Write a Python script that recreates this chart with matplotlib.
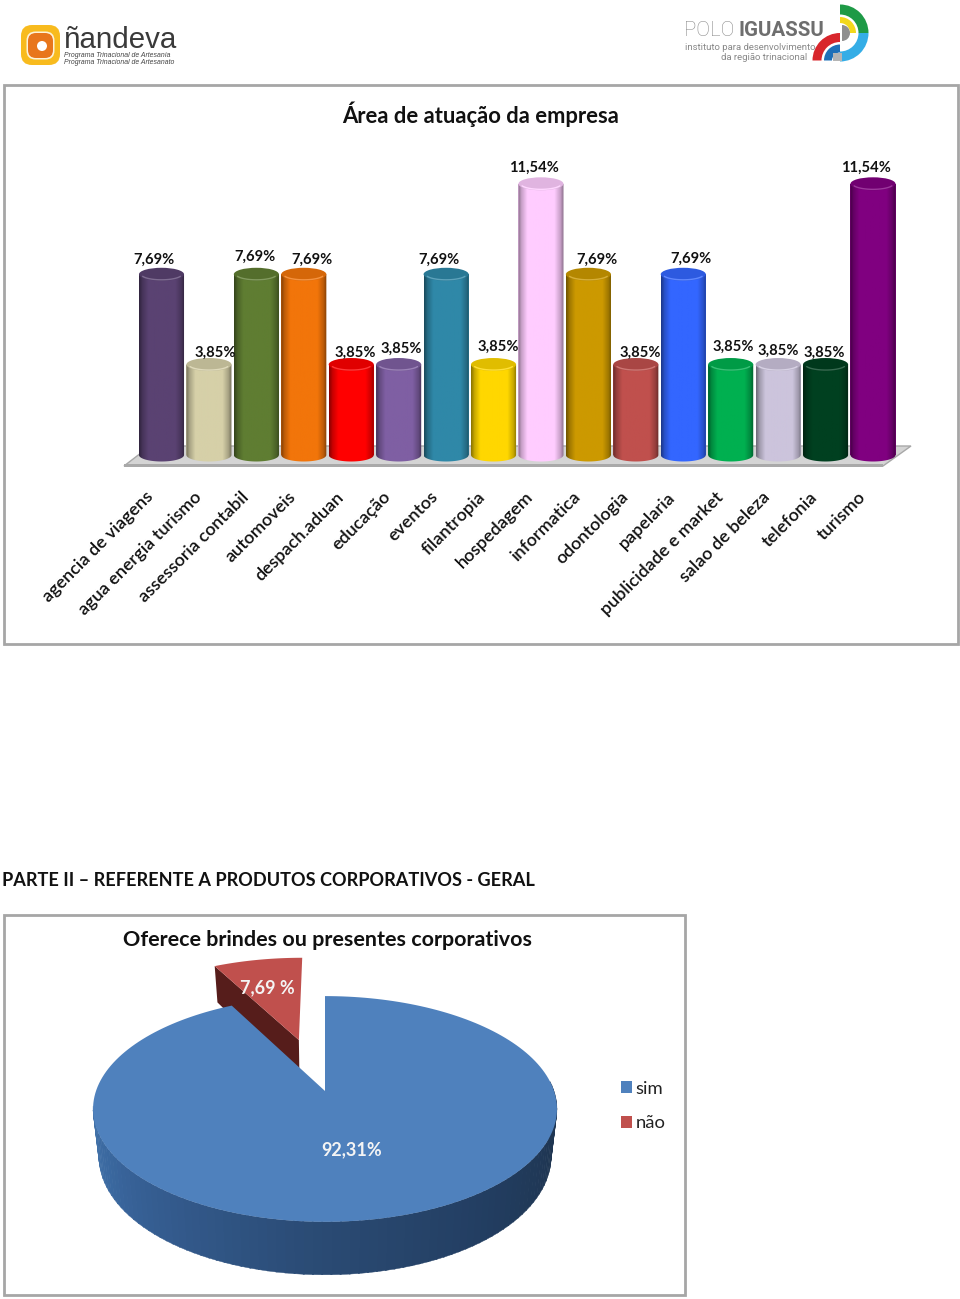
import numpy as np
import matplotlib
matplotlib.use("Agg")
import matplotlib.pyplot as plt
from matplotlib.patches import Rectangle, Polygon, Ellipse, Wedge, FancyBboxPatch, Patch
from matplotlib.colors import to_rgb
from matplotlib.transforms import ScaledTranslation

plt.rcParams['font.family'] = ['Lato', 'DejaVu Sans']

# data
categories = ["agencia de viagens", "agua energia turismo", "assessoria contabil", "automoveis",
              "despach.aduan", "educação", "eventos", "filantropia", "hospedagem", "informatica",
              "odontologia", "papelaria", "publicidade e market", "salao de beleza", "telefonia", "turismo"]
values = [7.69, 3.85, 7.69, 7.69, 3.85, 3.85, 7.69, 3.85, 11.54, 7.69, 3.85, 7.69, 3.85, 3.85, 3.85, 11.54]
bar_colors = ["#5a4272", "#d6d0a8", "#5f7d32", "#f2750a", "#ff0000", "#7f5fa3", "#2f88a8", "#ffd700",
              "#ffccff", "#cc9900", "#c0504d", "#3366ff", "#00b050", "#ccc4dc", "#004020", "#800080"]
label_x = [154, 215, 255, 312, 355, 401, 439, 498, 534, 597, 640, 691, 733, 778, 824, 866]
label_y = [258, 351, 255, 258, 351, 347, 258, 345, 166, 258, 351, 257, 345, 349, 351, 166]

pie_labels = ["sim", "não"]
pie_values = [92.31, 7.69]
pie_colors = ["#4f81bd", "#c0504d"]

W, H = 960, 1299
fig = plt.figure(figsize=(W / 100, H / 100), dpi=100)

# page axes in pixels
page = fig.add_axes([0, 0, 1, 1])
page.set_xlim(0, W)
page.set_ylim(H, 0)
page.axis("off")


def px(pixels):
    return pixels * 0.72


LOGO = "Liberation Sans"

# logos
page.add_patch(FancyBboxPatch((27, 31), 27, 28, boxstyle="round,pad=6,rounding_size=11", fc="#f8bb1e", ec="none"))
page.add_patch(FancyBboxPatch((30, 35), 21, 21, boxstyle="round,pad=3.5,rounding_size=9", fc="#fdf3d8", ec="none"))
page.add_patch(FancyBboxPatch((31, 36), 19, 19, boxstyle="round,pad=3,rounding_size=8", fc="#e8761c", ec="none"))
page.add_patch(Ellipse((42, 46), 10, 10, fc="white", ec="none"))
page.text(64, 47.5, "ñandeva", fontsize=px(29.5), color="#3a3a3a", va="baseline", family=LOGO)
page.text(64, 56.5, "Programa Trinacional de Artesanía", fontsize=px(6.9), color="#444444", style="italic",
          va="baseline", family=LOGO)
page.text(64, 63.5, "Programa Trinacional de Artesanato", fontsize=px(6.9), color="#444444", style="italic",
          va="baseline", family=LOGO)

page.text(684, 36, "POLO", fontsize=px(20.5), color="#8a8a8a", va="baseline", family="Roboto", fontweight="light")
page.text(739, 36, "IGUASSU", fontsize=px(20.5), color="#6e6e6e", va="baseline", fontweight="bold", family="Roboto")
page.text(685, 49.5, "instituto para desenvolvimento", fontsize=px(9.5), color="#888888", va="baseline", family="Roboto")
page.text(807, 59.5, "da região trinacional", fontsize=px(9.5), color="#888888", va="baseline", ha="right", family="Roboto")
# y axis is inverted here, so angles run clockwise on screen
page.add_patch(Wedge((840, 33), 28.5, 270, 360, width=10, fc="#1e9a46", ec="none"))
page.add_patch(Wedge((840, 33), 16, 270, 360, width=6, fc="#f2d81c", ec="none"))
page.add_patch(Wedge((840, 33), 28.5, 0, 90, width=10, fc="#34ade6", ec="none"))
page.add_patch(Wedge((842, 33), 8, 270, 450, fc="#8f8f8f", ec="none"))
page.add_patch(Wedge((840, 60.5), 27.5, 180, 270, width=9, fc="#d8262c", ec="none"))
page.add_patch(Wedge((840, 60.5), 16, 180, 270, width=8, fc="#1f70b8", ec="none"))
page.add_patch(Rectangle((833, 53), 9, 7.5, fc="#b5b5b5", ec="none"))

# frames
page.add_patch(Rectangle((4, 85), 954, 559, fc="white", ec="#a6a6a6", lw=2))
page.add_patch(Rectangle((4, 915), 681, 380, fc="white", ec="#a6a6a6", lw=2))

page.text(481, 114, "Área de atuação da empresa", ha="center", va="center", fontsize=px(22), fontweight="bold", color="#111111")
page.text(2, 880, "PARTE II – REFERENTE A PRODUTOS CORPORATIVOS - GERAL", ha="left", va="center",
          fontsize=px(18.2), fontweight="bold", color="#111111")
page.text(327.5, 940, "Oferece brindes ou presentes corporativos", ha="center", va="center",
          fontsize=px(21.5), fontweight="bold", color="#111111")

# floor of the 3d bars
page.add_patch(Polygon([(150, 446), (911, 446), (883, 466), (124, 466)], fc="#d4d4d4", ec="#a8a8a8", lw=1))
page.add_patch(Rectangle((124, 464), 759, 3, fc="#a9a9a9", ec="none"))

# bar axes: index on x, percent on y
step = 47.43
x0 = 161.5 - step / 2
x1 = 873 + step / 2
y_base = 455
px_per_pct = 23.5
y_top = 12.0
y_low = -0.5
ax = fig.add_axes([x0 / W, 1 - (y_base - y_low * px_per_pct) / H, (x1 - x0) / W, (y_top - y_low) * px_per_pct / H])
ax.patch.set_alpha(0)
for s in ax.spines.values():
    s.set_visible(False)
ax.set_yticks([])

bar_w = 0.95
ell_h = 13 / px_per_pct
xs = np.arange(len(values))
profile_pos = np.linspace(0, 1, 60)
profile = np.interp(profile_pos, [0, 0.07, 0.2, 0.8, 0.93, 1], [0.55, 0.78, 1, 1, 0.78, 0.55])

bars = ax.bar(xs, values, width=bar_w, color=bar_colors, linewidth=0)
for bar, v, c in zip(bars, values, bar_colors):
    i = bar.get_x() + bar_w / 2
    rgb = np.array(to_rgb(c))
    grad = (profile[:, None] * rgb)[None, :, :]
    im = ax.imshow(grad, extent=[i - bar_w / 2, i + bar_w / 2, y_low, v], aspect="auto", zorder=2)
    th = np.linspace(np.pi, 2 * np.pi, 40)
    outline = np.column_stack([i + bar_w / 2 * np.cos(th), ell_h / 2 * np.sin(th)])
    outline = np.vstack([outline, [i + bar_w / 2, v], [i - bar_w / 2, v]])
    clip = Polygon(outline, transform=ax.transData, fc="none", ec="none")
    ax.add_patch(clip)
    im.set_clip_path(clip)
    # cylinder top
    ax.add_patch(Ellipse((i, v), bar_w, ell_h, fc=rgb * 0.88, ec="none", zorder=3, clip_on=False))
    rim = np.linspace(np.pi * 1.12, np.pi * 1.88, 30)
    ax.plot(i + bar_w / 2 * 0.9 * np.cos(rim), v + ell_h / 2 * 0.85 * np.sin(rim), zorder=4,
            color=1 - (1 - rgb) * 0.78, lw=1.0, solid_capstyle="round", clip_on=False)

ax.set_xlim(-0.5, len(values) - 0.5)
ax.set_ylim(y_low, y_top)
ax.set_xticks(xs)
ax.set_xticklabels(categories, rotation=45, ha="right", va="top", rotation_mode="anchor",
                   fontsize=px(18), fontweight="semibold", color="#111111")
ax.tick_params(axis="x", length=0, pad=px(22))
shift = ScaledTranslation(-16 / 100, 0, fig.dpi_scale_trans)
for lab in ax.get_xticklabels():
    lab.set_transform(lab.get_transform() + shift)

# overlay for texts on top of the bars
top = fig.add_axes([0, 0, 1, 1])
top.set_xlim(0, W)
top.set_ylim(H, 0)
top.axis("off")
top.patch.set_alpha(0)
for x, y, v in zip(label_x, label_y, values):
    top.text(x, y + 1.5, f"{v:.2f}%".replace(".", ","), ha="center", va="center", fontsize=px(14.8),
             fontweight="bold", color="#111111", zorder=10)


# 3d pie, drawn from the values with a simple perspective on the unit disc
cx, cy = 325, 1091
b = 0.159
a = 110
s_x = 229


def project(u, v, depth=False):
    d = 1 + b * v
    x = cx + u * s_x / d
    y = cy - v * a / d
    if depth:
        x = cx + (x - cx) * 0.975
        y = y + 46 - 7 * v
    return x, y


def wedge_uv(start, stop, dx=0.0, dy=0.0):
    th = np.radians(np.linspace(start, stop, 200))
    u = np.concatenate([[0], np.sin(th), [0]]) + dx
    v = np.concatenate([[0], np.cos(th), [0]]) + dy
    return u, v


blue_sweep = pie_values[0] / sum(pie_values) * 360
red_mid = blue_sweep + (360 - blue_sweep) / 2
explode = 0.515
ex = explode * np.sin(np.radians(red_mid))
ey = explode * np.cos(np.radians(red_mid))

# red slice side and top
u, v = wedge_uv(blue_sweep, 360, ex, ey)
xa, ya = project(u[0], v[0])
xb, yb = project(u[1], v[1])
xa2, ya2 = project(u[0], v[0], True)
xb2, yb2 = project(u[1], v[1], True)
page_z = 20
top.add_patch(Polygon([(xb, yb), (xa, ya), (xa2, ya2), (xb2, yb2)], fc="#561d1b", ec="none", zorder=page_z))
xr, yr = project(u, v)
top.fill(xr, yr, color=pie_colors[1], lw=0, zorder=page_z + 1)

# blue side, strips along the front edge
side_angles = np.linspace(85, 262, 90)
shade_pos = [85, 110, 140, 180, 215, 240, 262]
shade = np.array([to_rgb(c) for c in ["#1d3350", "#1f3652", "#223d60", "#2a4a73", "#335a8c", "#3a679e", "#4272aa"]])
for a0, a1 in zip(side_angles[:-1], side_angles[1:]):
    th = np.radians([a0, a1 + 0.3])
    uu, vv = np.sin(th), np.cos(th)
    xt, yt = project(uu, vv)
    xd, yd = project(uu, vv, True)
    col = [np.interp((a0 + a1) / 2, shade_pos, shade[:, k]) for k in range(3)]
    top.add_patch(Polygon([(xt[0], yt[0]), (xt[1], yt[1]), (xd[1], yd[1]), (xd[0], yd[0])],
                          fc=col, ec=col, lw=0.3, zorder=page_z + 2))

# blue top
u, v = wedge_uv(0, blue_sweep)
xb_top, yb_top = project(u, v)
top.fill(xb_top, yb_top, color=pie_colors[0], lw=0, zorder=page_z + 3)

top.text(352, 1150, f"{pie_values[0]:.2f}%".replace(".", ","), ha="center", va="center", fontsize=px(18),
         fontweight="bold", color="#f4f4f4", zorder=page_z + 5)
top.text(267, 988, f"{pie_values[1]:.2f} %".replace(".", ","), ha="center", va="center", fontsize=px(18),
         fontweight="bold", color="#f4f4f4", zorder=page_z + 5)

handles = [Patch(fc=c, ec="none") for c in pie_colors]
top.legend(handles, pie_labels, loc="upper left", bbox_to_anchor=(604, 1064), bbox_transform=top.transData,
           frameon=False, fontsize=px(18.5), handlelength=0.62, handleheight=0.62, handletextpad=0.17,
           labelspacing=1.0, labelcolor="#222222")

fig.savefig("out.png", dpi=100)
